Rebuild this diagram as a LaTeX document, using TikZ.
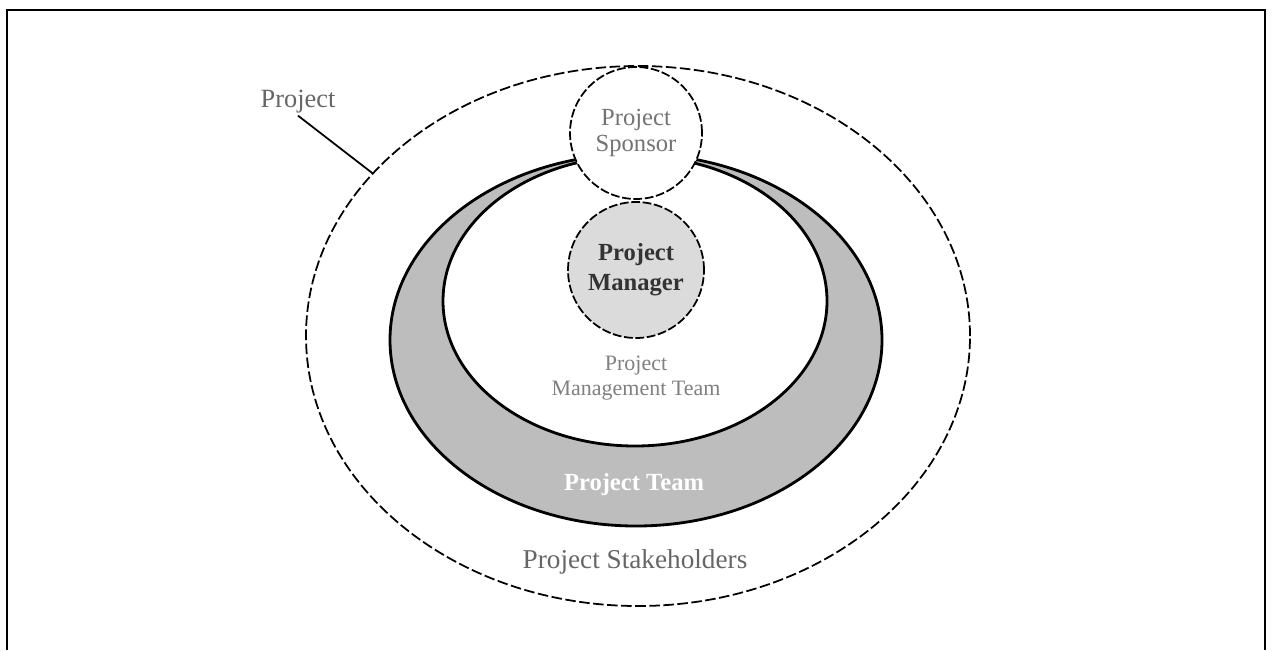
\documentclass[tikz,border=0pt]{standalone}
\usepackage{fontspec}
\setmainfont{Liberation Serif}
\definecolor{teamgray}{gray}{0.74}
\definecolor{mgrgray}{gray}{0.86}
\begin{document}
\begin{tikzpicture}[x=0.02cm,y=0.02cm,
    ring/.style={line width=1.6pt},
    bubble/.style={circle,line width=1pt,dash pattern=on 5pt off 1.5pt,align=center,inner sep=0pt},
    txt/.style={align=center,inner sep=1pt}]
      \useasboundingbox (0,0) rectangle (1273,-650);
      \draw[line width=1.5pt] (7,-650) |- (1265,-10) -- (1265,-650);
      % rings, outside in
      \draw[line width=1pt,dash pattern=on 6pt off 2pt] (638,-336) ellipse [x radius=332,y radius=270];
      \filldraw[ring,fill=teamgray] (636,-340) ellipse [x radius=246,y radius=186];
      \filldraw[ring,fill=white] (635,-301) ellipse [x radius=192,y radius=145];
      \node[bubble,draw,fill=mgrgray,minimum size=2.72cm,text=black!80,font=\bfseries\fontsize{14}{17}\selectfont] (manager) at (636,-270) {Project\\Manager};
      \node[bubble,draw,fill=white,minimum size=2.64cm,text=black!55,font=\fontsize{14}{15}\selectfont] (sponsor) at (636,-133) {Project\\Sponsor};
      \node[txt,text=black!50,font=\fontsize{12.5}{14}\selectfont] (pmteam) at (636,-378) {Project\\Management Team};
      \node[txt,text=white,font=\bfseries\fontsize{14}{16}\selectfont] (team) at (634,-485) {Project Team};
      \node[txt,text=black!60,font=\fontsize{15.5}{18}\selectfont] (stake) at (635,-562) {Project Stakeholders};
      % label for the outer ring
      \node[txt,text=black!60,font=\fontsize{15}{18}\selectfont] (projlbl) at (298,-102) {Project};
      \path (638,-336) ++(143:332 and 270) coordinate (projend);
      \draw[line width=1pt] (projlbl.south) -- (projend);
\end{tikzpicture}
\end{document}
